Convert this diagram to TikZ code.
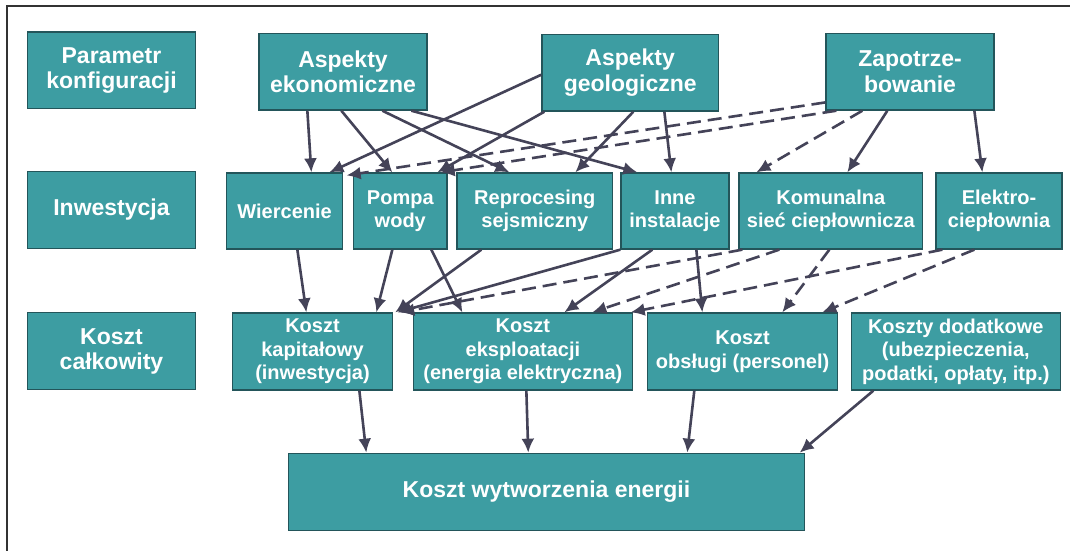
\documentclass[tikz,border=0pt]{standalone}
\usepackage{fontspec}
\setmainfont{Liberation Sans}
\usetikzlibrary{arrows.meta,calc}
\definecolor{tealfill}{RGB}{61,157,162}
\definecolor{tealedge}{RGB}{35,85,90}
\definecolor{arrcol}{RGB}{68,67,88}
\begin{document}
\begin{tikzpicture}[x=1pt,y=-1pt,
  box/.style={draw=tealedge, line width=1.3pt, fill=tealfill, text=white,
    font=\bfseries\fontsize{20}{23.5}\selectfont, align=center, inner sep=0pt},
  big/.style={font=\bfseries\fontsize{23}{25.5}\selectfont},
  conn/.style={draw=arrcol, line width=2.6pt, -{Latex[length=14pt,width=13pt]}},
  dconn/.style={conn, dash pattern=on 14pt off 7pt}]
\useasboundingbox (0,0) rectangle (1070,551);
\fill[white] (0,0) rectangle (1070,551);
\draw[line width=1.4pt, black!80] (1070,6) -- (7,6) -- (7,551);

% row 1
\node[box,big,minimum width=168pt,minimum height=76.7pt] (param) at (111.5,70.3) {Parametr\\konfiguracji};
\node[box,big,minimum width=168pt,minimum height=76.7pt] (ekon) at (343,71.7) {Aspekty\\ekonomiczne};
\node[box,big,minimum width=176.4pt,minimum height=76.7pt] (geol) at (630.2,72.7) {Aspekty\\geologiczne};
\node[box,big,minimum width=168pt,minimum height=76.7pt] (zap) at (910,71.7) {Zapotrze-\\bowanie};
% row 2
\node[box,big,minimum width=168pt,minimum height=76.6pt] (inw) at (111.5,210) {Inwestycja};
\node[box,minimum width=116pt,minimum height=76pt] (wier) at (284.6,211) {Wiercenie};
\node[box,minimum width=93.4pt,minimum height=76pt] (pompa) at (400.3,211) {Pompa\\wody};
\node[box,minimum width=155.6pt,minimum height=76pt] (repro) at (534.8,211) {Reprocesing\\sejsmiczny};
\node[box,minimum width=108pt,minimum height=76pt] (inne) at (675,211) {Inne\\instalacje};
\node[box,minimum width=183.6pt,minimum height=76pt] (komu) at (830.8,211) {Komunalna\\sieć ciepłownicza};
\node[box,minimum width=126pt,minimum height=76pt] (elek) at (999,211) {Elektro-\\ciepłownia};
% row 3
\node[box,big,minimum width=168pt,minimum height=77pt] (calk) at (111.5,351.3) {Koszt\\całkowity};
\node[box,minimum width=160.2pt,minimum height=77pt] (kapit) at (312.5,351.5) {Koszt\\kapitałowy\\(inwestycja)};
\node[box,minimum width=219.4pt,minimum height=77pt] (ekspl) at (522.9,351.5) {Koszt\\eksploatacji\\(energia elektryczna)};
\node[box,minimum width=189.7pt,minimum height=77pt] (obsl) at (742.6,351.5) {Koszt\\obsługi (personel)};
\node[box,minimum width=209pt,minimum height=77pt] (dodat) at (955.8,351.5) {Koszty dodatkowe\\(ubezpieczenia,\\podatki, opłaty, itp.)};
% bottom
\node[box,big,minimum width=516pt,minimum height=77.4pt] (wytw) at (546.5,492) {Koszt wytworzenia energii};

% row 1 -> row 2
\draw[conn] ($(ekon.south west)+(49,0)$) -- ($(wier.north west)+(85.4,0)$);
\draw[conn] ($(ekon.south west)+(83,0)$) -- ($(pompa.north west)+(39.4,0)$);
\draw[conn] ($(ekon.south west)+(124,0)$) -- ($(repro.north west)+(53,0)$);
\draw[conn] ($(ekon.south west)+(153,0)$) -- ($(inne.north west)+(17,0)$);
\draw[conn] ($(geol.north west)+(0,41)$) -- ($(wier.north west)+(103.4,0)$);
\draw[conn] ($(geol.south west)+(3,0)$) -- ($(pompa.north west)+(84.4,0)$);
\draw[conn] ($(geol.south west)+(92,0)$) -- ($(repro.north west)+(119,0)$);
\draw[conn] ($(geol.south west)+(123,0)$) -- ($(inne.north west)+(51,0)$);
\draw[dconn] ($(zap.north west)+(0,69.7)$) -- ($(wier.north east)+(3.4,3)$);
\draw[dconn] ($(zap.south west)+(11,0)$) -- ($(pompa.north east)+(-7,0)$);
\draw[dconn] ($(zap.south west)+(37,0)$) -- ($(komu.north west)+(18,0)$);
\draw[conn] ($(zap.south west)+(62,0)$) -- ($(komu.north west)+(109,0)$);
\draw[conn] ($(zap.south west)+(149,0)$) -- ($(elek.north west)+(47,0)$);

% row 2 -> row 3
\draw[conn] ($(wier.south west)+(71.4,0)$) -- ($(kapit.north west)+(74.6,0)$);
\draw[conn] ($(pompa.south west)+(39.4,0)$) -- ($(kapit.north west)+(144.6,0)$);
\draw[conn] ($(pompa.south west)+(78.4,0)$) -- ($(ekspl.north west)+(49.8,0)$);
\draw[conn] ($(repro.south west)+(25,0)$) -- ($(kapit.north east)+(2,0)$);
\draw[conn] (inne.south west) -- ($(kapit.north east)+(4,0)$);
\draw[dconn] ($(komu.south west)+(4,0)$) -- ($(kapit.north east)+(7,0)$);
\draw[conn] ($(inne.south west)+(32,0)$) -- ($(ekspl.north west)+(151.8,0)$);
\draw[dconn] ($(komu.south west)+(41,0)$) -- ($(ekspl.north west)+(179.8,0)$);
\draw[dconn] ($(elek.south west)+(7,0)$) -- ($(ekspl.north east)+(-2.6,0)$);
\draw[conn] ($(inne.south west)+(76,0)$) -- ($(obsl.north west)+(55.2,0)$);
\draw[dconn] ($(komu.south west)+(91,0)$) -- ($(obsl.north west)+(135.2,0)$);
\draw[dconn] ($(elek.south west)+(39,0)$) -- ($(obsl.north west)+(175.2,0)$);

% row 3 -> bottom
\draw[conn] ($(kapit.south west)+(127.6,0)$) -- ($(wytw.north west)+(78.4,0)$);
\draw[conn] ($(ekspl.south west)+(113.8,0)$) -- ($(wytw.north west)+(240.4,0)$);
\draw[conn] ($(obsl.south west)+(47.2,0)$) -- ($(wytw.north west)+(399.4,0)$);
\draw[conn] ($(dodat.south west)+(22.7,0)$) -- ($(wytw.north east)+(-5.5,0)$);
\end{tikzpicture}
\end{document}
